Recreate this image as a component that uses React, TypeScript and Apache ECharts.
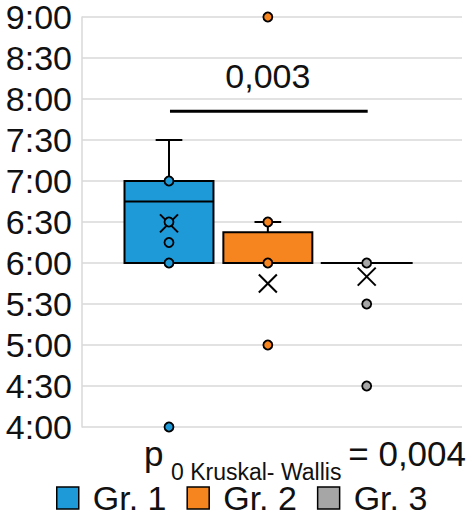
import React, { useEffect, useRef } from "react";
import * as echarts from "echarts";

// ---- data (times in minutes after midnight) ----
const groups = ["Gr. 1", "Gr. 2", "Gr. 3"];
const groupColors = ["#1e9ad9", "#f6841f", "#a6a6a6"];
const q1 = [360, 360, 360];
const median = [405, 360, 360];
const q3 = [420, 382.5, 360];
const whiskerLow = [360, 360, 360];
const whiskerHigh = [450, 390, 360];
const means = [389, 345, 350];
const pointsGr1 = [420, 390, 375, 360, 240];
const pointsGr2 = [540, 390, 360, 300];
const pointsGr3 = [360, 330, 270];
const yMin = 240;
const yMax = 540;
const yStep = 30;
const sigFrom = 1.01;
const sigTo = 3.01;
const sigLevel = 471;
const sigLabel = "0,003";
const sigLabelLevel = 497;
const pMain = "p";
const pSub = "0 Kruskal- Wallis";
const pValue = "= 0,004";

const FONT = "'Liberation Sans', Arial, sans-serif";

function fmtTime(v: number) {
  const h = Math.floor(v / 60);
  const m = Math.round(v - h * 60);
  return h + ":" + (m < 10 ? "0" + m : "" + m);
}

export default function App() {
  const ref = useRef<HTMLDivElement>(null);
  useEffect(() => {
    document.body.style.margin = "0";
    const chart = echarts.init(ref.current!, null, { renderer: "svg" });
    const boxData = groups.map((g, i) => [i + 1, q1[i], median[i], q3[i], whiskerLow[i], whiskerHigh[i]]);
    const meanData = groups.map((g, i) => [i + 1, means[i]]);
    const pointSets = [pointsGr1, pointsGr2, pointsGr3];

    const option: any = {
      animation: false,
      grid: { left: 82, right: 10, top: 16, bottom: 91, containLabel: false },
      xAxis: {
        type: "value",
        min: 0.12,
        max: 3.964,
        show: false,
      },
      yAxis: {
        type: "value",
        min: yMin,
        max: yMax,
        interval: yStep,
        axisLine: { show: true, lineStyle: { color: "#d9d9d9", width: 1.5 } },
        axisTick: { show: false },
        splitLine: { show: true, lineStyle: { color: "#d9d9d9", width: 1.5 } },
        axisLabel: {
          formatter: (v: number) => fmtTime(v),
          fontSize: 34,
          lineHeight: 28,
          color: "#111",
          fontFamily: FONT,
          margin: 10,
        },
      },
      legend: {
        data: groups,
        left: 56,
        top: 481,
        padding: 0,
        icon: "rect",
        itemWidth: 22,
        itemHeight: 22,
        itemGap: 20,
        selectedMode: false,
        itemStyle: { borderColor: "#000", borderWidth: 1.5 },
        textStyle: { fontSize: 34, lineHeight: 30, color: "#111", fontFamily: FONT, padding: [0, 0, 0, 9] },
      },
      series: [
        {
          type: "custom",
          name: "boxes",
          data: boxData,
          z: 2,
          renderItem: (params: any, api: any) => {
            const x = api.value(0);
            const a = api.value(1);
            const med = api.value(2);
            const b = api.value(3);
            const lo = api.value(4);
            const hi = api.value(5);
            const color = groupColors[params.dataIndex];
            const half = 0.45;
            const cap = 0.135;
            const children: any[] = [];
            const lineStyle = { stroke: "#000", lineWidth: 2 };
            if (hi > b) {
              const p1 = api.coord([x, b]);
              const p2 = api.coord([x, hi]);
              children.push({ type: "line", shape: { x1: p1[0], y1: p1[1], x2: p2[0], y2: p2[1] }, style: lineStyle });
              const c1 = api.coord([x - cap, hi]);
              const c2 = api.coord([x + cap, hi]);
              children.push({ type: "line", shape: { x1: c1[0], y1: c1[1], x2: c2[0], y2: c2[1] }, style: lineStyle });
            }
            if (lo < a) {
              const p1 = api.coord([x, a]);
              const p2 = api.coord([x, lo]);
              children.push({ type: "line", shape: { x1: p1[0], y1: p1[1], x2: p2[0], y2: p2[1] }, style: lineStyle });
              const c1 = api.coord([x - cap, lo]);
              const c2 = api.coord([x + cap, lo]);
              children.push({ type: "line", shape: { x1: c1[0], y1: c1[1], x2: c2[0], y2: c2[1] }, style: lineStyle });
            }
            if (b > a) {
              const tl = api.coord([x - half, b]);
              const br = api.coord([x + half, a]);
              children.push({
                type: "rect",
                shape: { x: tl[0], y: tl[1], width: br[0] - tl[0], height: br[1] - tl[1] },
                style: { fill: color, stroke: "#000", lineWidth: 2 },
              });
            }
            const m1 = api.coord([x - (b > a ? half : half + 0.015), med]);
            const m2 = api.coord([x + (b > a ? half : half + 0.015), med]);
            children.push({ type: "line", shape: { x1: m1[0], y1: m1[1], x2: m2[0], y2: m2[1] }, style: lineStyle });
            return { type: "group", children };
          },
        },
        {
          type: "custom",
          name: "means",
          data: meanData,
          z: 3,
          renderItem: (params: any, api: any) => {
            const c = api.coord([api.value(0), api.value(1)]);
            const s = 9;
            const st = { stroke: "#000", lineWidth: 2 };
            return {
              type: "group",
              children: [
                { type: "line", shape: { x1: c[0] - s, y1: c[1] - s, x2: c[0] + s, y2: c[1] + s }, style: st },
                { type: "line", shape: { x1: c[0] - s, y1: c[1] + s, x2: c[0] + s, y2: c[1] - s }, style: st },
              ],
            };
          },
        },
        ...groups.map((g, i) => ({
          type: "scatter",
          name: g,
          z: 4,
          symbol: "circle",
          symbolSize: 9,
          itemStyle: { color: groupColors[i], borderColor: "#000", borderWidth: 1.8, opacity: 1 },
          data: pointSets[i].map((v) => [i + 1, v]),
        })),
        {
          type: "line",
          name: "sig",
          symbol: "none",
          z: 3,
          lineStyle: { color: "#000", width: 3 },
          data: [
            [sigFrom, sigLevel],
            [sigTo, sigLevel],
          ],
        },
        {
          type: "custom",
          name: "sigLabel",
          data: [[(sigFrom + sigTo) / 2 - 0.01, sigLabelLevel]],
          renderItem: (params: any, api: any) => {
            const c = api.coord([api.value(0), api.value(1)]);
            return {
              type: "text",
              x: c[0],
              y: c[1],
              style: {
                text: sigLabel,
                fontSize: 34,
                fontFamily: FONT,
                fill: "#111",
                align: "center",
                verticalAlign: "middle",
              },
            };
          },
        },
      ],
      graphic: [
        {
          type: "text",
          left: 144,
          top: 436,
          style: { text: pMain, fontSize: 35, fontFamily: FONT, fill: "#111" },
        },
        {
          type: "text",
          left: 171,
          top: 460,
          style: { text: pSub, fontSize: 23, lineHeight: 19, fontFamily: FONT, fill: "#111" },
        },
        {
          type: "text",
          right: 6,
          top: 436,
          style: { text: pValue, fontSize: 35, fontFamily: FONT, fill: "#111" },
        },
      ],
    };
    chart.setOption(option);
    return () => chart.dispose();
  }, []);
  return <div ref={ref} style={{ position: "absolute", left: 0, top: 0, width: 472, height: 518 }} />;
}
